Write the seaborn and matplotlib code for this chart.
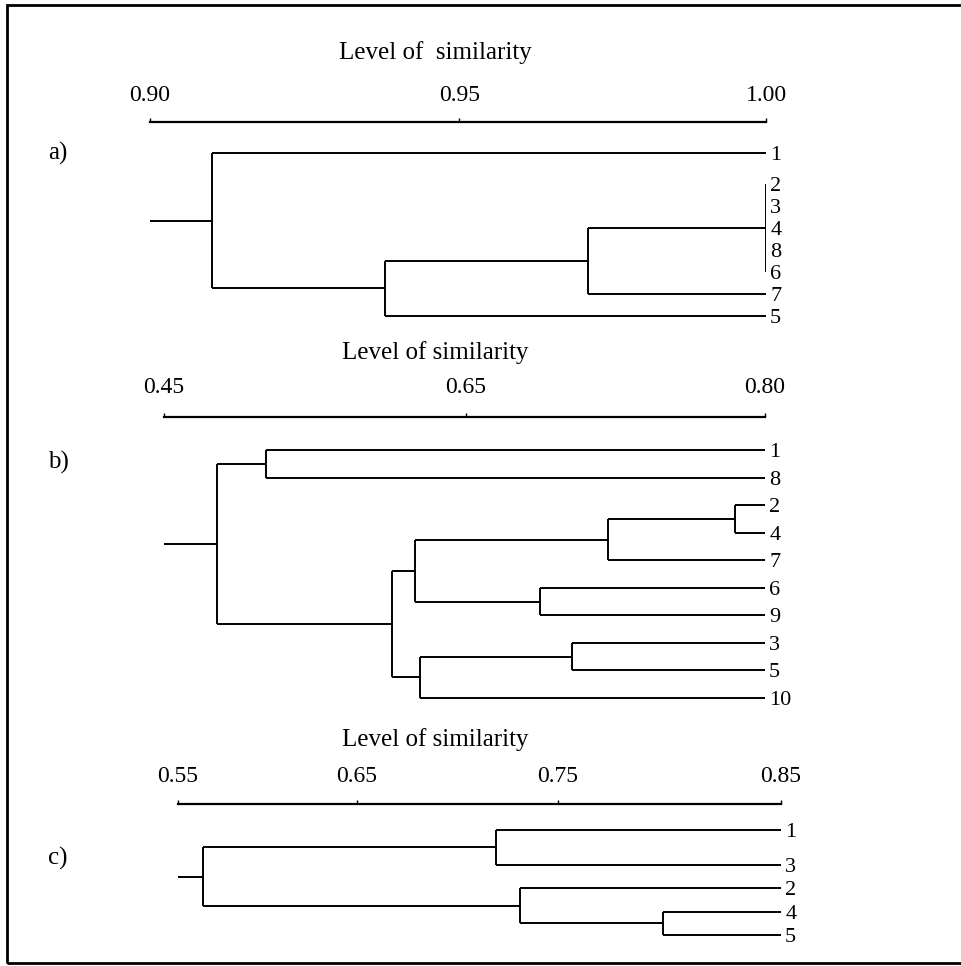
import numpy as np
import matplotlib
matplotlib.use("Agg")
import matplotlib.pyplot as plt
import seaborn as sns

sns.set_theme(style="white")
plt.rcParams['font.family'] = ['Liberation Serif', 'DejaVu Serif']
plt.rcParams['text.color'] = 'black'
plt.rcParams['xtick.color'] = 'black'
plt.rcParams['ytick.color'] = 'black'

# panel a
a_labels = ["1", "2", "3", "4", "8", "6", "7", "5"]
a_rows = [0, 1.4, 2.4, 3.4, 4.4, 5.4, 6.4, 7.4]
a_clusters = [("2", "3", "4", "8", "6"), ("c0", "7"), ("c1", "5"), ("1", "c2")]
a_heights = [1.00, 0.971, 0.938, 0.910]
a_ticks = [0.90, 0.95, 1.00]
a_tick_pos = [0, 0.502, 1]

# panel b
b_labels = ["1", "8", "2", "4", "7", "6", "9", "3", "5", "10"]
b_rows = [0, 1, 2, 3, 4, 5, 6, 7, 8, 9]
b_clusters = [("1", "8"), ("2", "4"), ("c1", "7"), ("6", "9"), ("c2", "c3"),
              ("3", "5"), ("c5", "10"), ("c4", "c6"), ("c0", "c7")]
b_heights = [0.5175, 0.785, 0.721, 0.687, 0.616, 0.703, 0.6195, 0.601, 0.485]
b_ticks = [0.45, 0.65, 0.80]
b_tick_pos = [0, 0.5025, 1]

# panel c
c_labels = ["1", "3", "2", "4", "5"]
c_rows = [0, 1.5, 2.5, 3.5, 4.5]
c_clusters = [("1", "3"), ("4", "5"), ("2", "c1"), ("c0", "c2")]
c_heights = [0.719, 0.797, 0.731, 0.564]
c_ticks = [0.55, 0.65, 0.75, 0.85]
c_tick_pos = [0, 0.297, 0.630, 1]

W, H = 961, 966
fig = plt.figure(figsize=(W / 100, H / 100), dpi=100)


def draw_panel(labels, rows, clusters, heights, ticks, tick_pos, box, title, title_y, letter, letter_y, pad):
    left, right, top, row0, unit, bottom = box
    ax = fig.add_axes([left / W, 1 - bottom / H, (right - left) / W, (bottom - top) / H])
    ax.set_facecolor("none")

    def fwd(v):
        return np.interp(v, ticks, tick_pos)

    def inv(p):
        return np.interp(p, tick_pos, ticks)

    ax.set_xscale("function", functions=(fwd, inv))
    ax.set_xlim(ticks[0], ticks[-1])
    ax.set_ylim((bottom - row0) / unit, -(row0 - top) / unit)

    leaf_x = ticks[-1]
    pos = {lab: (leaf_x, r) for lab, r in zip(labels, rows)}
    for i, (members, h) in enumerate(zip(clusters, heights)):
        ys = [pos[m][1] for m in members]
        for m in members:
            x0, y0 = pos[m]
            ax.plot([h, x0], [y0, y0], color="black", lw=1.4, solid_capstyle="butt")
        ax.plot([h, h], [min(ys), max(ys)], color="black", lw=1.4, solid_capstyle="butt")
        pos["c%d" % i] = (h, (min(ys) + max(ys)) / 2)
    root_h, root_y = pos["c%d" % (len(clusters) - 1)]
    ax.plot([ticks[0], root_h], [root_y, root_y], color="black", lw=1.4, solid_capstyle="butt")

    for s in ["left", "right", "bottom"]:
        ax.spines[s].set_visible(False)
    ax.spines["top"].set_linewidth(1.6)
    ax.spines["top"].set_color("black")
    ax.xaxis.tick_top()
    ax.set_xticks(ticks)
    ax.set_xticklabels(["%.2f" % t for t in ticks])
    ax.tick_params(axis="x", which="both", top=True, direction="out", length=3,
                   width=1, color="black", labelsize=17, pad=pad)
    ax.minorticks_off()
    ax.yaxis.tick_right()
    ax.set_yticks(rows)
    ax.set_yticklabels(labels)
    ax.tick_params(axis="y", right=True, length=0, labelsize=16, pad=3)

    fig.text(435 / W, 1 - title_y / H, title, fontsize=18, ha="center", va="center")
    fig.text(58 / W, 1 - letter_y / H, letter, fontsize=18, ha="center", va="center")
    return ax


draw_panel(a_labels, a_rows, a_clusters, a_heights, a_ticks, a_tick_pos,
           (150, 766, 122, 153, 22.0, 330), "Level of  similarity", 53, "a)", 153, 8.5)
draw_panel(b_labels, b_rows, b_clusters, b_heights, b_ticks, b_tick_pos,
           (164, 765, 417, 450, 27.55, 710), "Level of similarity", 353, "b)", 462, 10.5)
draw_panel(c_labels, c_rows, c_clusters, c_heights, c_ticks, c_tick_pos,
           (178, 781, 804, 830, 23.3, 945), "Level of similarity", 740, "c)", 858, 9)

frame = plt.Rectangle((7 / W, 1 - 963 / H), 980 / W, (963 - 5) / H,
                      transform=fig.transFigure, fill=False, lw=2, color="black")
fig.add_artist(frame)

fig.savefig("out.png", dpi=100)
